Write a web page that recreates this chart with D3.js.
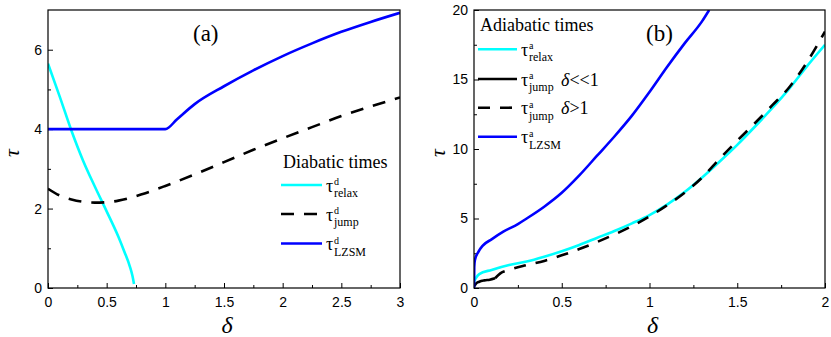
<!DOCTYPE html>
<html><head><meta charset="utf-8">
<script src="https://cdn.jsdelivr.net/npm/d3@7"></script>
<style>body{margin:0;background:#fff}svg{display:block}</style>
</head><body>
<svg id="c" width="831" height="337"></svg>
<script>
// ---------- Panel (a): diabatic times ----------
const aRelaxX = [0, 0.1, 0.2, 0.3, 0.4, 0.5, 0.6, 0.65, 0.7, 0.72, 0.733];
const aRelaxY = [5.65, 4.82, 3.96, 3.2, 2.55, 1.93, 1.29, 0.92, 0.52, 0.3, 0.1];
const aJumpX = [0, 0.1, 0.2, 0.3, 0.4, 0.5, 0.6, 0.7, 0.8, 0.9, 1.0, 1.25, 1.5, 1.75, 2.0, 2.25, 2.5, 2.75, 3.0];
const aJumpY = [2.5, 2.33, 2.23, 2.17, 2.15, 2.16, 2.2, 2.27, 2.36, 2.46, 2.57, 2.86, 3.17, 3.48, 3.77, 4.05, 4.33, 4.57, 4.8];
const aLzsmX = [0, 0.5, 1.0, 1.1, 1.25, 1.5, 1.75, 2.0, 2.25, 2.5, 2.75, 3.0];
const aLzsmY = [4.0, 4.0, 4.0, 4.25, 4.63, 5.08, 5.48, 5.84, 6.16, 6.45, 6.70, 6.93];
const aXTicks = [0, 0.5, 1, 1.5, 2, 2.5, 3];
const aYTicks = [0, 2, 4, 6];

// ---------- Panel (b): adiabatic times ----------
const bRelaxX = [0, 0.01, 0.03, 0.1, 0.2, 0.3, 0.4, 0.5, 0.6, 0.7, 0.8, 0.9, 1.0, 1.1, 1.2, 1.3, 1.4, 1.5, 1.6, 1.7, 1.8, 1.9, 2.0];
const bRelaxY = [0.45, 0.7, 1.0, 1.3, 1.65, 1.9, 2.25, 2.65, 3.1, 3.6, 4.1, 4.65, 5.25, 6.0, 6.9, 7.95, 9.1, 10.3, 11.6, 12.95, 14.4, 16.0, 17.5];
const bJumpSmallX = [0, 0.01, 0.03, 0.06, 0.09, 0.12];
const bJumpSmallY = [0.1, 0.3, 0.45, 0.55, 0.6, 0.7];
const bJumpLargeX = [0.12, 0.15, 0.2, 0.3, 0.4, 0.5, 0.6, 0.7, 0.8, 0.9, 1.0, 1.1, 1.2, 1.3, 1.4, 1.5, 1.6, 1.7, 1.8, 1.9, 2.0];
const bJumpLargeY = [0.7, 1.05, 1.3, 1.65, 1.95, 2.35, 2.8, 3.3, 3.85, 4.45, 5.15, 5.95, 6.85, 7.95, 9.3, 10.6, 11.85, 13.15, 14.5, 16.3, 18.45];
const bLzsmX = [0, 0.0015, 0.005, 0.025, 0.05, 0.1, 0.167, 0.25, 0.3, 0.4, 0.5, 0.6, 0.7, 0.8, 0.9, 1.0, 1.1, 1.2, 1.3, 1.34];
const bLzsmY = [0, 1.5, 2.0, 2.6, 3.05, 3.5, 4.05, 4.6, 5.0, 5.85, 6.85, 8.1, 9.5, 10.9, 12.4, 14.1, 15.9, 17.6, 19.2, 20.0];
const bXTicks = [0, 0.5, 1, 1.5, 2];
const bYTicks = [0, 5, 10, 15, 20];

const CYAN = "#00ffff", BLUE = "#0000ff", BLACK = "#000";
const SERIF = "'Liberation Serif','Times New Roman',serif";
const SANS = "'Liberation Sans',Arial,sans-serif";
const svg = d3.select("#c");
const zip = (xs, ys) => xs.map((x, i) => [x, ys[i]]);

function panel(o) {
  const g = svg.append("g");
  const x = d3.scaleLinear().domain(o.xDom).range([o.left, o.right]);
  const y = d3.scaleLinear().domain(o.yDom).range([o.bottom, o.top]);
  const cid = "clip" + o.id;
  g.append("clipPath").attr("id", cid).append("rect")
    .attr("x", o.left).attr("y", o.top).attr("width", o.right - o.left).attr("height", o.bottom - o.top);
  const xAxis = d3.axisBottom(x).tickValues(o.xTicks).tickSize(-5).tickFormat(d3.format(""));
  const yAxis = d3.axisLeft(y).tickValues(o.yTicks).tickSize(-5).tickFormat(d3.format(""));
  const gx = g.append("g").attr("transform", `translate(0,${o.bottom})`).call(xAxis);
  const gy = g.append("g").attr("transform", `translate(${o.left},0)`).call(yAxis);
  g.append("g").attr("transform", `translate(0,${o.bottom})`)
    .call(d3.axisBottom(x).tickValues(o.xMinor).tickSize(-3).tickFormat(""));
  g.append("g").attr("transform", `translate(${o.left},0)`)
    .call(d3.axisLeft(y).tickValues(o.yMinor).tickSize(-3).tickFormat(""));
  g.selectAll(".domain").remove();
  g.selectAll(".tick line").attr("stroke", "#000").attr("stroke-width", 1);
  g.selectAll(".tick text").attr("font-family", SANS).attr("font-size", 14).attr("fill", "#000");
  gx.selectAll(".tick text").attr("dy", "0.71em").attr("y", 9);
  gy.selectAll(".tick text").attr("x", -6);
  const gl = g.append("g").attr("clip-path", `url(#${cid})`);
  o.series.forEach(s => {
    gl.append("path").datum(zip(s.x, s.y))
      .attr("fill", "none").attr("stroke", s.color).attr("stroke-width", 2.6)
      .attr("stroke-dasharray", s.dash || null)
      .attr("d", d3.line().x(d => x(d[0])).y(d => y(d[1])).curve(d3.curveMonotoneX));
  });
  g.append("rect").attr("x", o.left).attr("y", o.top).attr("width", o.right - o.left).attr("height", o.bottom - o.top)
    .attr("fill", "none").attr("stroke", "#000").attr("stroke-width", 1.2);
  g.append("text").attr("x", (o.left + o.right) / 2 + 3).attr("y", 333).attr("text-anchor", "middle")
    .attr("font-family", SERIF).attr("font-style", "italic").attr("font-size", 24).text("δ");
  g.append("text").attr("transform", `translate(${o.left - 29},${(o.top + o.bottom) / 2 + 4}) rotate(-90)`)
    .attr("text-anchor", "middle")
    .attr("font-family", SERIF).attr("font-style", "italic").attr("font-size", 22).text("τ");
  g.append("text").attr("x", o.tagX).attr("y", 41).attr("font-family", SERIF)
    .attr("font-size", 23).text(o.tag);
  const L = o.legend;
  g.append("text").attr("x", L.titleX).attr("y", L.titleY).attr("font-family", SERIF)
    .attr("font-size", 18).text(L.title);
  L.items.forEach((it, i) => {
    const ry = L.rowY[i];
    g.append("line").attr("x1", L.lx1).attr("x2", L.lx2).attr("y1", ry).attr("y2", ry)
      .attr("stroke", it.color).attr("stroke-width", 2.6).attr("stroke-dasharray", it.dash || null);
    const tg = g.append("g").attr("font-family", SERIF);
    tg.append("text").attr("x", L.lx2 + 4).attr("y", ry + 6.5).attr("font-size", 18).text("τ");
    tg.append("text").attr("x", L.lx2 + 12).attr("y", ry).attr("font-size", 10).text(L.sup);
    tg.append("text").attr("x", L.lx2 + 12).attr("y", ry + 12).attr("font-size", 12).text(it.sub);
    if (it.extra) {
      const t = tg.append("text").attr("x", L.lx2 + 44).attr("y", ry + 6.5).attr("font-size", 18);
      t.append("tspan").attr("font-style", "italic").text("δ");
      t.append("tspan").text(it.extra);
    }
  });
}

panel({
  id: "a", left: 48, right: 400, top: 10, bottom: 288,
  xDom: [0, 3], yDom: [0, 7],
  xTicks: aXTicks, yTicks: aYTicks,
  xMinor: [0.25, 0.75, 1.25, 1.75, 2.25, 2.75], yMinor: [1, 3, 5],
  tag: "(a)", tagX: 193,
  series: [
    { x: aRelaxX, y: aRelaxY, color: CYAN },
    { x: aJumpX, y: aJumpY, color: BLACK, dash: "13,10" },
    { x: aLzsmX, y: aLzsmY, color: BLUE }
  ],
  legend: {
    title: "Diabatic times", titleX: 283, titleY: 168, sup: "d",
    lx1: 281, lx2: 322, rowY: [185, 214, 243.5],
    items: [
      { color: CYAN, sub: "relax" },
      { color: BLACK, sub: "jump", dash: "13,10" },
      { color: BLUE, sub: "LZSM" }
    ]
  }
});

panel({
  id: "b", left: 474, right: 825, top: 10, bottom: 288,
  xDom: [0, 2], yDom: [0, 20],
  xTicks: bXTicks, yTicks: bYTicks,
  xMinor: [0.25, 0.75, 1.25, 1.75], yMinor: [2.5, 7.5, 12.5, 17.5],
  tag: "(b)", tagX: 646,
  series: [
    { x: bRelaxX, y: bRelaxY, color: CYAN },
    { x: bJumpSmallX, y: bJumpSmallY, color: BLACK },
    { x: bJumpLargeX, y: bJumpLargeY, color: BLACK, dash: "12,10" },
    { x: bLzsmX, y: bLzsmY, color: BLUE }
  ],
  legend: {
    title: "Adiabatic times", titleX: 480, titleY: 31, sup: "a",
    lx1: 478, lx2: 517, rowY: [49.3, 79, 107.7, 136.7],
    items: [
      { color: CYAN, sub: "relax" },
      { color: BLACK, sub: "jump", extra: "<<1" },
      { color: BLACK, sub: "jump", extra: ">1", dash: "12,10" },
      { color: BLUE, sub: "LZSM" }
    ]
  }
});
</script>
</body></html>
